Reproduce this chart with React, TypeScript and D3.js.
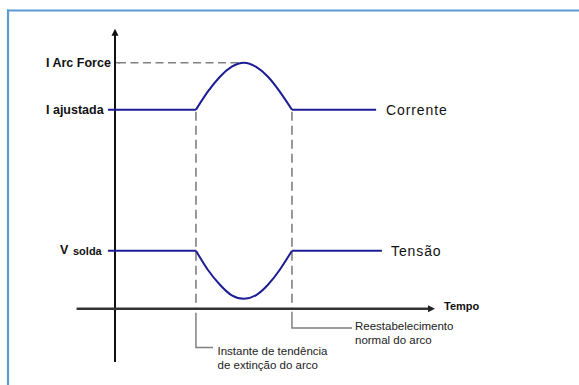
import React from "react";
import * as d3 from "d3";

// ---- data ----
const levelLabels = ["I Arc Force", "I ajustada"];
const levelValues = [12.3, 9.95];
const voltageLabel = ["V", "solda"];
const voltageLevel = 2.9;

const eventTimes = [2.53, 5.53];
const seriesStart = -0.22;
const currentEnd = 8.16;
const tensionEnd = 8.34;

const bumpTimes = [2.53, 2.9, 3.28, 3.65, 4.03, 4.4, 4.78, 5.15, 5.53];
const currentBump = [9.95, 10.85, 11.6, 12.1, 12.3, 12.1, 11.6, 10.85, 9.95];
const tensionBump = [2.9, 1.95, 1.2, 0.67, 0.5, 0.67, 1.2, 1.95, 2.9];

const seriesNames = ["Corrente", "Tensão"];
const axisLabel = "Tempo";
const noteLeft = ["Instante de tendência", "de extinção do arco"];
const noteRight = ["Reestabelecimento", "normal do arco"];

const W = 579;
const H = 385;
const FONT = "'Liberation Sans', Arial, sans-serif";
const NAVY = "#1c1c94";
const GREY = "#808080";

export default function App() {
  const x = d3.scaleLinear().domain([-1.2, 10]).range([76.6, 435]);
  const y = d3.scaleLinear().domain([0, 14]).range([308.7, 28.7]);
  const x0 = x(0);
  const y0 = y(0);

  const smooth = d3
    .line<[number, number]>()
    .x((d) => x(d[0]))
    .y((d) => y(d[1]))
    .curve(d3.curveNatural);
  const straight = d3
    .line<[number, number]>()
    .x((d) => x(d[0]))
    .y((d) => y(d[1]));

  const currentPts = bumpTimes.map((t, i) => [t, currentBump[i]] as [number, number]);
  const tensionPts = bumpTimes.map((t, i) => [t, tensionBump[i]] as [number, number]);

  const iAdj = levelValues[1];
  const iArc = levelValues[0];

  const arrowUp = `M${x0},${y(14)} L${x0 - 3.5},${y(14) + 7} L${x0 + 3.5},${y(14) + 7} Z`;
  const xEnd = x(10);
  const arrowRight = `M${xEnd},${y0} L${xEnd - 7},${y0 - 3.5} L${xEnd - 7},${y0 + 3.5} Z`;

  return (
    <svg
      width={W}
      height={H}
      style={{ position: "absolute", left: 0, top: 0, background: "#fff" }}
      fontFamily={FONT}
    >
      {/* frame */}
      <line x1={7} x2={W} y1={10.5} y2={10.5} stroke="#5b9bd5" strokeWidth={2.2} />
      <line x1={8} x2={8} y1={9.5} y2={H} stroke="#5b9bd5" strokeWidth={2.2} />

      {/* arc force dashed reference */}
      <line
        x1={x0 + 3}
        x2={x(bumpTimes[4]) - 2}
        y1={y(iArc)}
        y2={y(iArc)}
        stroke={GREY}
        strokeWidth={1.6}
        strokeDasharray="8,4.5"
      />
      <line x1={x0} x2={x0 + 5} y1={y(iArc)} y2={y(iArc)} stroke={GREY} strokeWidth={1.5} />

      {/* event dashed verticals */}
      {eventTimes.map((t, i) => (
        <line
          key={"v" + i}
          x1={x(t)}
          x2={x(t)}
          y1={y(iAdj) + 2}
          y2={y0}
          stroke={GREY}
          strokeWidth={1.6}
          strokeDasharray="9,5"
        />
      ))}

      {/* leaders */}
      <path
        d={`M${x(eventTimes[0])},${y0 + 4} V347.5 H213`}
        fill="none"
        stroke={GREY}
        strokeWidth={1.5}
      />
      <path
        d={`M${x(eventTimes[1])},${y0 + 3} V328 H352`}
        fill="none"
        stroke={GREY}
        strokeWidth={1.5}
      />

      {/* axes */}
      <line x1={x0} x2={x0} y1={y(14) + 5} y2={362} stroke="#111" strokeWidth={2} />
      <path d={arrowUp} fill="#111" />
      <line x1={x(-1.2)} x2={xEnd - 5} y1={y0} y2={y0} stroke="#333" strokeWidth={2.4} />
      <path d={arrowRight} fill="#222" />

      {/* current */}
      <path
        d={straight([[seriesStart, iAdj], [eventTimes[0], iAdj]]) || ""}
        fill="none"
        stroke={NAVY}
        strokeWidth={2}
      />
      <path d={smooth(currentPts) || ""} fill="none" stroke={NAVY} strokeWidth={2} />
      <path
        d={straight([[eventTimes[1], iAdj], [currentEnd, iAdj]]) || ""}
        fill="none"
        stroke={NAVY}
        strokeWidth={2}
      />

      {/* tension */}
      <path
        d={straight([[seriesStart, voltageLevel], [eventTimes[0], voltageLevel]]) || ""}
        fill="none"
        stroke={NAVY}
        strokeWidth={2}
      />
      <path d={smooth(tensionPts) || ""} fill="none" stroke={NAVY} strokeWidth={2} />
      <path
        d={straight([[eventTimes[1], voltageLevel], [tensionEnd, voltageLevel]]) || ""}
        fill="none"
        stroke={NAVY}
        strokeWidth={2}
      />

      {/* level labels */}
      <g fill="#111" fontWeight="bold" fontSize={12.5}>
        <text x={46} y={y(iArc) + 4.5}>{levelLabels[0]}</text>
        <text x={46} y={y(iAdj) + 4.5}>{levelLabels[1]}</text>
        <text x={60} y={y(voltageLevel) + 3}>{voltageLabel[0]}</text>
        <text x={73} y={y(voltageLevel) + 4} fontSize={11}>{voltageLabel[1]}</text>
      </g>

      {/* series names */}
      <g fill="#111" fontSize={14} letterSpacing={0.9}>
        <text x={386} y={y(iAdj) + 5.5}>{seriesNames[0]}</text>
        <text x={391} y={y(voltageLevel) + 5}>{seriesNames[1]}</text>
      </g>

      <text x={444} y={y0 + 1} fontSize={11} fontWeight="bold" fill="#111">
        {axisLabel}
      </text>

      {/* notes */}
      <g fill="#222" fontSize={11.5}>
        <text x={217.5} y={354.5}>{noteLeft[0]}</text>
        <text x={217.5} y={368.5}>{noteLeft[1]}</text>
        <text x={355} y={330}>{noteRight[0]}</text>
        <text x={355} y={344}>{noteRight[1]}</text>
      </g>
    </svg>
  );
}
